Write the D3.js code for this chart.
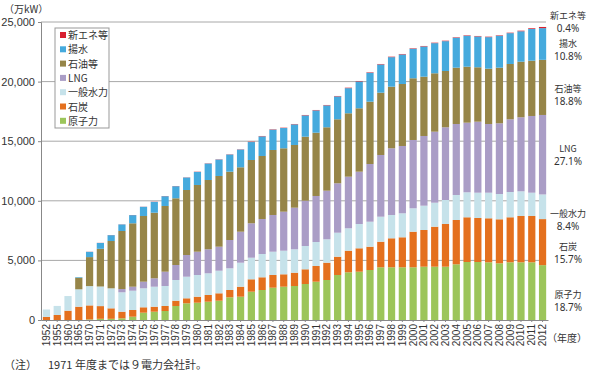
<!DOCTYPE html>
<html>
<head>
<meta charset="utf-8">
<script src="https://cdn.jsdelivr.net/npm/d3@7"></script>
<style>
  body { margin: 0; background: #fff; }
  svg { font-family: "Noto Sans CJK JP", "Noto Sans", sans-serif; }
  .tick text { fill: #333; }
</style>
</head>
<body>
<div id="chart-container"></div>
<script>
// fiscal years (1971 and before: 9 companies)
const years = ["1952", "1955", "1960", "1965",
  "1970", "1971", "1972", "1973", "1974", "1975", "1976", "1977", "1978", "1979",
  "1980", "1981", "1982", "1983", "1984", "1985", "1986", "1987", "1988", "1989",
  "1990", "1991", "1992", "1993", "1994", "1995", "1996", "1997", "1998", "1999",
  "2000", "2001", "2002", "2003", "2004", "2005", "2006", "2007", "2008", "2009",
  "2010", "2011", "2012"];

// capacity, 万kW
const nuclear = [0, 0, 0, 0,
  50, 100, 100, 143, 277, 612, 696, 755, 1175, 1401,
  1451, 1535, 1619, 1905, 1955, 2374, 2517, 2710, 2794, 2853,
  3020, 3213, 3356, 3776, 4002, 4052, 4195, 4422, 4422, 4422,
  4422, 4472, 4472, 4472, 4673, 4866, 4866, 4841, 4757, 4841,
  4841, 4841, 4602];
const coal = [260, 420, 780, 1116,
  1175, 1066, 880, 553, 562, 454, 420, 420, 444, 420,
  504, 563, 621, 612, 839, 1041, 1066, 1066, 1040, 1115,
  1234, 1318, 1451, 1535, 1812, 1964, 1955, 2147, 2433, 2517,
  2986, 3079, 3356, 3582, 3717, 3751, 3692, 3692, 3692, 3776,
  3885, 3885, 3863];
const hydro = [620, 760, 1230, 1460,
  1619, 1644, 1678, 1628, 1619, 1594, 1678, 1678, 1737, 1812,
  1821, 1820, 1896, 1821, 2013, 1812, 1954, 1954, 1980, 1964,
  1955, 2013, 1964, 2013, 1880, 2038, 2097, 2098, 1955, 2013,
  1964, 2039, 2013, 2014, 2098, 2097, 2123, 2148, 2122, 2122,
  2072, 1955, 2067];
const lng = [0, 0, 0, 0,
  0, 0, 0, 277, 336, 553, 705, 1199, 1259, 1821,
  1954, 2014, 2014, 2374, 2601, 2886, 2937, 3080, 3272, 3490,
  3800, 3860, 4077, 4145, 4329, 4388, 4841, 5177, 5596, 5647,
  5730, 5848, 5957, 6100, 5956, 5840, 5956, 5763, 5932, 6100,
  6209, 6435, 6669];
const oil = [0, 0, 0, 973,
  2433, 3163, 3968, 4866, 5319, 5513, 5503, 5513, 5596, 5453,
  5597, 5814, 5932, 5730, 5404, 5311, 5286, 5453, 5320, 5261,
  5370, 5310, 5320, 5370, 5319, 5320, 5227, 5226, 5168, 5201,
  5177, 4975, 4900, 4723, 4724, 4698, 4565, 4640, 4665, 4639,
  4664, 4639, 4626];
const pumped = [0, 0, 0, 50,
  440, 490, 490, 550, 685, 770, 905, 820, 1012, 1046,
  1095, 1380, 1380, 1440, 1490, 1505, 1648, 1707, 1698, 1731,
  1786, 1870, 1836, 1920, 2108, 2250, 2427, 2368, 2477, 2477,
  2477, 2536, 2527, 2502, 2511, 2594, 2586, 2645, 2678, 2586,
  2551, 2659, 2658];
const newEnergy = [0, 0, 0, 0,
  10, 10, 10, 10, 10, 10, 15, 15, 15, 15,
  20, 20, 20, 20, 20, 30, 30, 30, 30, 30,
  35, 35, 35, 35, 40, 40, 40, 40, 40, 40,
  40, 40, 40, 40, 40, 40, 40, 40, 40, 40,
  50, 60, 98];

const seriesKeys = ["原子力", "石炭", "一般水力", "LNG", "石油等", "揚水", "新エネ等"];
const seriesColors = ["#9cc55a", "#e4701e", "#c6e2ea", "#aa9dc6", "#968548", "#45aadd", "#d8202f"];
const shareLabels = ["18.7%", "15.7%", "8.4%", "27.1%", "18.8%", "10.8%", "0.4%"];
const yTicks = [0, 5000, 10000, 15000, 20000, 25000];

const rows = years.map((y, i) => ({
  year: y,
  "原子力": nuclear[i],
  "石炭": coal[i],
  "一般水力": hydro[i],
  "LNG": lng[i],
  "石油等": oil[i],
  "揚水": pumped[i],
  "新エネ等": newEnergy[i],
}));

const width = 590;
const height = 374;
const m_left = 41;
const m_right = 548;
const m_top = 22;
const m_bottom = 320;

const svg = d3.select("#chart-container")
  .append("svg")
  .attr("width", width)
  .attr("height", height);

const x = d3.scaleBand()
  .domain(years)
  .range([m_left, m_right])
  .paddingInner(0.33)
  .paddingOuter(0.17);

const y = d3.scaleLinear()
  .domain([0, 25000])
  .range([m_bottom, m_top]);

const color = d3.scaleOrdinal().domain(seriesKeys).range(seriesColors);

//gridlines
svg.append("g")
  .selectAll("line")
  .data(yTicks.slice(1))
  .join("line")
  .attr("x1", m_left)
  .attr("x2", 546)
  .attr("y1", (d) => y(d))
  .attr("y2", (d) => y(d))
  .attr("stroke", "#a8a8a8")
  .attr("stroke-width", 1);

//stacked bars
const stacked = d3.stack().keys(seriesKeys)(rows);

svg.append("g")
  .selectAll("g")
  .data(stacked)
  .join("g")
  .attr("fill", (d) => color(d.key))
  .selectAll("rect")
  .data((d) => d)
  .join("rect")
  .attr("x", (d) => x(d.data.year))
  .attr("width", x.bandwidth())
  .attr("y", (d) => y(d[1]))
  .attr("height", (d) => Math.max(0, y(d[0]) - y(d[1])));

//y axis
const yAxis = svg.append("g")
  .attr("transform", `translate(${m_left},0)`)
  .call(d3.axisLeft(y).tickValues(yTicks).tickSize(3).tickPadding(3)
    .tickFormat(d3.format(",")));
yAxis.select(".domain").attr("stroke", "#888");
yAxis.selectAll(".tick line").attr("stroke", "#888");
yAxis.selectAll("text").style("font-size", "11px").attr("fill", "#333");

//x axis
const xAxis = svg.append("g")
  .attr("transform", `translate(0,${m_bottom})`)
  .call(d3.axisBottom(x).tickSize(2).tickSizeOuter(0));
xAxis.select(".domain").attr("stroke", "#888");
xAxis.selectAll(".tick line").attr("stroke", "#888");
xAxis.selectAll("text")
  .attr("transform", "rotate(-90)")
  .attr("x", -4)
  .attr("y", 0)
  .attr("dy", "0.35em")
  .attr("text-anchor", "end")
  .style("font-size", "10px")
  .attr("fill", "#333");

//unit labels
svg.append("text")
  .attr("x", 4)
  .attr("y", 13)
  .style("font-size", "10px")
  .attr("fill", "#333")
  .text("（万kW）");

svg.append("text")
  .attr("x", 547)
  .attr("y", 342)
  .style("font-size", "10px")
  .attr("fill", "#333")
  .text("（年度）");

//legend
const lg = svg.append("g");
lg.append("rect")
  .attr("x", 55)
  .attr("y", 28)
  .attr("width", 54)
  .attr("height", 100)
  .attr("fill", "#fff")
  .attr("stroke", "#999");

const legendOrder = seriesKeys.slice().reverse();
for (let i = 0; i < legendOrder.length; i++) {
  lg.append("rect")
    .attr("x", 60)
    .attr("y", 32 + 14.3 * i)
    .attr("width", 6)
    .attr("height", 6)
    .attr("fill", color(legendOrder[i]));
  lg.append("text")
    .attr("x", 68)
    .attr("y", 39 + 14.3 * i)
    .style("font-size", "10px")
    .attr("fill", "#333")
    .text(legendOrder[i]);
}

//share labels on the right
const shareY = [296, 248, 215, 150, 90, 45, 17];
for (let i = 0; i < seriesKeys.length; i++) {
  svg.append("text")
    .attr("x", 568)
    .attr("y", shareY[i] + 1.5)
    .attr("text-anchor", "middle")
    .style("font-size", "9px")
    .attr("fill", "#333")
    .text(seriesKeys[i]);
  svg.append("text")
    .attr("x", 568)
    .attr("y", shareY[i] + 15)
    .attr("text-anchor", "middle")
    .style("font-family", "'Noto Sans', sans-serif")
    .style("font-size", "10px")
    .attr("fill", "#333")
    .text(shareLabels[i]);
}

//note
svg.append("text")
  .attr("x", 4)
  .attr("y", 369)
  .style("font-size", "11px")
  .attr("fill", "#333")
  .text("（注）");
svg.append("text")
  .attr("x", 48)
  .attr("y", 369)
  .style("font-size", "11px")
  .attr("fill", "#333")
  .text("1971 年度までは９電力会社計。");
</script>
</body>
</html>
